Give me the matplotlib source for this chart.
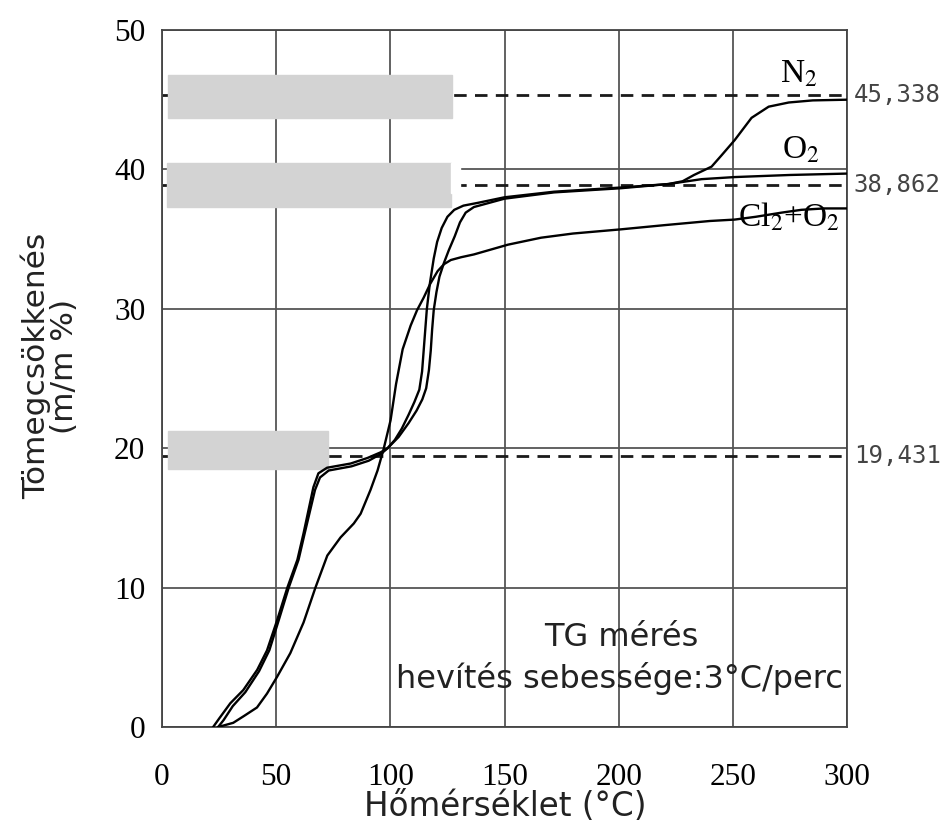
import matplotlib
matplotlib.use("Agg")
import matplotlib.pyplot as plt
from matplotlib.patches import Rectangle

plt.rcParams['mathtext.fontset'] = 'stix'

# TG görbék (hőmérséklet °C, tömegcsökkenés m/m %)
cl2o2_x = [24.6, 26.8, 31.2, 36, 41.6, 46, 50.4, 56.2, 62, 67.2, 72.4, 78.2, 84, 87, 91.3,
           94.4, 97, 100.1, 102.5, 105.4, 108.9, 111.7, 114.6, 117.5, 120.7, 123.5, 126.5,
           131, 136.6, 151.5, 166, 180, 201, 220, 240, 250.8, 260, 271.4, 280, 290, 300]
cl2o2_y = [0, 0.1, 0.3, 0.8, 1.4, 2.4, 3.6, 5.3, 7.5, 10, 12.3, 13.6, 14.6, 15.3, 17,
           18.4, 19.9, 22, 24.6, 27.1, 28.8, 29.9, 30.8, 31.8, 32.7, 33.2, 33.5,
           33.7, 33.9, 34.6, 35.1, 35.4, 35.7, 36.0, 36.3, 36.4, 36.6, 36.9, 37.1, 37.2, 37.2]

o2_x = [22.4, 25, 29.9, 35.6, 41.7, 46, 50.5, 54.9, 59.3, 62, 66.3, 68.5, 72.3, 82.6, 90,
        95.7, 98.8, 102, 105, 108, 110.5, 112.7, 113.9, 114.6, 115.3, 116, 117.3, 119,
        120.5, 122.5, 125, 128, 132, 138.3, 150, 171.7, 201, 221.8, 236.3, 250.8, 275, 300]
o2_y = [0, 0.6, 1.7, 2.65, 4.1, 5.5, 7.7, 10, 12, 13.9, 17.2, 18.2, 18.6, 18.9, 19.3,
        19.7, 20.0, 20.6, 21.4, 22.4, 23.3, 24.2, 25.5, 27, 28.5, 30, 31.8, 33.6,
        34.8, 35.8, 36.6, 37.1, 37.4, 37.6, 38.0, 38.4, 38.7, 38.95, 39.3, 39.45, 39.6, 39.7]

n2_x = [24.6, 27, 31, 36.5, 42.5, 47, 51.2, 55.5, 59.8, 62.5, 67, 69.2, 73, 83, 90.5, 96,
        98.8, 103.6, 108, 111.5, 114, 115.7, 116.9, 117.7, 118.3, 119, 120.2, 121.5, 123.5,
        125.6, 128.2, 130.5, 133, 136.6, 150, 171.7, 201, 221.8, 228, 233, 240.7, 245,
        250.8, 258.2, 265.7, 274.5, 285, 300]
n2_y = [0, 0.5, 1.5, 2.5, 4.0, 5.5, 7.7, 10, 12, 13.9, 17.0, 17.9, 18.4, 18.7, 19.1, 19.6,
        20.0, 20.8, 21.8, 22.7, 23.5, 24.3, 25.6, 27, 28.5, 29.9, 31.2, 32.3, 33.3,
        34.2, 35.2, 36.2, 36.9, 37.3, 37.9, 38.35, 38.65, 38.95, 39.15, 39.6, 40.2, 41,
        42.1, 43.7, 44.5, 44.8, 44.95, 45.0]

ref_values = [45.338, 38.862, 19.431]
ref_labels = ["45,338", "38,862", "19,431"]

fig = plt.figure(figsize=(9.41, 8.21), dpi=100)
ax = fig.add_axes([162 / 941, 1 - 727 / 821, 685 / 941, 697 / 821])

ax.set_xlim(0, 300)
ax.set_ylim(0, 50)
ax.set_xticks(range(0, 301, 50))
ax.set_yticks(range(0, 51, 10))
ax.grid(True, color="#555555", lw=1.3, zorder=0)
ax.set_axisbelow(True)
for s in ax.spines.values():
    s.set_color("#444444")
    s.set_linewidth(1.3)
ax.tick_params(length=0)
ax.tick_params(axis="x", pad=26)
ax.tick_params(axis="y", pad=12)
for lab in ax.get_xticklabels() + ax.get_yticklabels():
    lab.set_fontfamily("Liberation Serif")
    lab.set_fontsize(22.5)

# szaggatott referencia vonalak
for v, t in zip(ref_values, ref_labels):
    ax.axhline(v, color="#1a1a1a", ls=(0, (4.5, 3)), lw=2, zorder=2)
    ax.text(303, v, t, fontsize=17.3, family="DejaVu Sans Mono", color="#444444",
            va="center", ha="left", clip_on=False)

# szürke takaró dobozok
ax.add_patch(Rectangle((2.6, 43.69), 124.3, 3.08, color="#d3d3d3", zorder=3))
ax.add_patch(Rectangle((2.2, 37.30), 124.3, 3.16, color="#d3d3d3", zorder=3))
ax.add_patch(Rectangle((126.5, 38.3), 4.2, 2.16, color="white", zorder=3))
ax.add_patch(Rectangle((2.6, 18.5), 69.9, 2.7, color="#d3d3d3", zorder=3))

for xs, ys in [(cl2o2_x, cl2o2_y), (o2_x, o2_y), (n2_x, n2_y)]:
    ax.plot(xs, ys, color="black", lw=1.7, zorder=4)

ax.text(279, 46.8, r"N$_2$", fontsize=24, family="Liberation Serif", ha="center", va="center")
ax.text(280, 41.4, r"O$_2$", fontsize=24, family="Liberation Serif", ha="center", va="center")
ax.text(274.5, 36.6, r"Cl$_2$+O$_2$", fontsize=24, family="Liberation Serif",
        ha="center", va="center")

ax.text(201, 6.4, "TG mérés", fontsize=23, ha="center", va="center", color="#222222")
ax.text(200.5, 3.5, "hevítés sebessége:3°C/perc", fontsize=23, ha="center", va="center",
        color="#222222")

fig.text(505 / 941, 1 - 806 / 821, "Hőmérséklet (°C)", fontsize=23.5, ha="center",
         va="center", color="#222222")
fig.text(50 / 941, 1 - 366 / 821, "Tömegcsökkenés\n(m/m %)", fontsize=22.5, rotation=90,
         ha="center", va="center", multialignment="center", color="#222222", linespacing=0.95)

fig.savefig("out.png", dpi=100)
